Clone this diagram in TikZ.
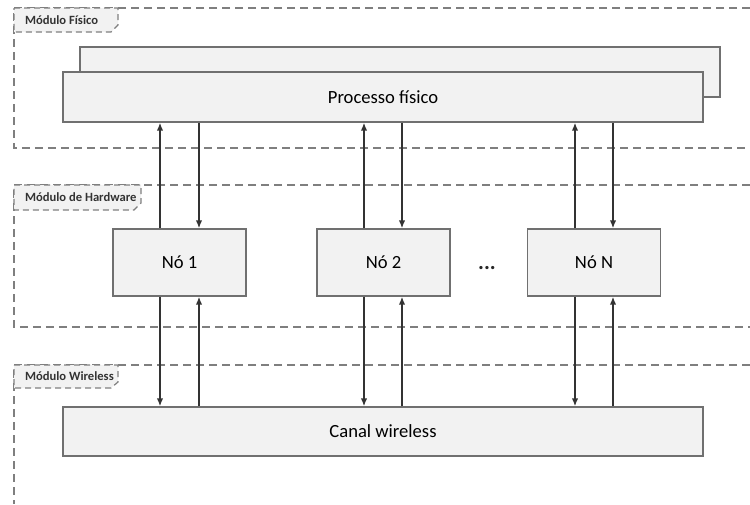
\documentclass[tikz,border=0pt]{standalone}
\usepackage{fontspec}
\setmainfont{Carlito}
\usepackage{xcolor}
\usepackage{tikz}
\usetikzlibrary{arrows.meta, positioning, calc}

\definecolor{boxfill}{HTML}{F2F2F2}
\definecolor{boxline}{HTML}{707070}
\definecolor{arrowcol}{HTML}{333333}
\definecolor{dashcol}{HTML}{7F7F7F}

\begin{document}
\begin{tikzpicture}[x=0.5pt, y=-0.5pt,
    box/.style={draw=boxline, fill=boxfill, line width=0.6pt, inner sep=0pt, font=\fontsize{9.3}{11}\selectfont},
    frame/.style={draw=dashcol, dash pattern=on 4pt off 2.5pt, line width=0.6pt},
    tab/.style={draw=dashcol, fill=boxfill, dash pattern=on 3pt off 2pt, line width=0.6pt},
    tablabel/.style={anchor=west, font=\fontsize{6.3}{7}\selectfont\bfseries, text=black!80},
    link/.style={draw=arrowcol, line width=0.9pt, -{Latex[length=4pt,width=3.2pt]}}]
          \useasboundingbox (0,0) rectangle (750,504);

          % modulos
          \draw[frame] (750,8) -- (14,8) -- (14,148) -- (750,148);
          \draw[frame] (750,185) -- (14,185) -- (14,327) -- (750,327);
          \draw[frame] (750,365) -- (14,365) -- (14,504);

          \draw[tab] (14,8) -- (118,8) -- (118,25) -- (111,32) -- (14,32) -- cycle;
          \node[tablabel] (lfis) at (18,20) {Módulo Físico};
          \draw[tab] (14,185) -- (141,185) -- (141,203) -- (134,210) -- (14,210) -- cycle;
          \node[tablabel] (lhw) at (18,197.5) {Módulo de Hardware};
          \draw[tab] (14,365) -- (118,365) -- (118,382) -- (111,388) -- (14,388) -- cycle;
          \node[tablabel] (lwl) at (18,376.5) {Módulo Wireless};

          % caixas
          \node[box, minimum width=320pt, minimum height=25pt] (back) at (400,72) {};
          \node[box, minimum width=320pt, minimum height=25pt] (proc) at (383,97) {Processo físico};
          \node[box, minimum width=66.5pt, minimum height=33.5pt] (n1) at (179.5,262.5) {Nó 1};
          \node[box, minimum width=66.5pt, minimum height=33.5pt] (n2) at (383.5,262.5) {Nó 2};
          \node[box, minimum width=66.5pt, minimum height=33.5pt] (nN) at (594,262.5) {Nó N};
          \node[font=\fontsize{11}{12}\selectfont\bfseries, text=black!85] (dots) at (487,268) {...};
          \node[box, minimum width=320pt, minimum height=24.5pt] (canal) at (383,431.5) {Canal wireless};

          % pontos de ligacao
          \coordinate (u1) at ($(n1.north)+(-19.5,0)$);
          \coordinate (d1) at ($(n1.north)+(19.5,0)$);
          \coordinate (u2) at ($(n2.north)+(-19.5,0)$);
          \coordinate (d2) at ($(n2.north)+(18.5,0)$);
          \coordinate (uN) at ($(nN.north)+(-19,0)$);
          \coordinate (dN) at ($(nN.north)+(19,0)$);
          \coordinate (s1) at ($(n1.south)+(-19.5,0)$);
          \coordinate (r1) at ($(n1.south)+(19.5,0)$);
          \coordinate (s2) at ($(n2.south)+(-19.5,0)$);
          \coordinate (r2) at ($(n2.south)+(18.5,0)$);
          \coordinate (sN) at ($(nN.south)+(-19,0)$);
          \coordinate (rN) at ($(nN.south)+(19,0)$);

          % ligacoes
          \draw[link] (u1) -- (u1 |- proc.south);
          \draw[link] (d1 |- proc.south) -- (d1);
          \draw[link] (u2) -- (u2 |- proc.south);
          \draw[link] (d2 |- proc.south) -- (d2);
          \draw[link] (uN) -- (uN |- proc.south);
          \draw[link] (dN |- proc.south) -- (dN);

          \draw[link] (s1) -- (s1 |- canal.north);
          \draw[link] (r1 |- canal.north) -- (r1);
          \draw[link] (s2) -- (s2 |- canal.north);
          \draw[link] (r2 |- canal.north) -- (r2);
          \draw[link] (sN) -- (sN |- canal.north);
          \draw[link] (rN |- canal.north) -- (rN);
        \end{tikzpicture}
\end{document}
